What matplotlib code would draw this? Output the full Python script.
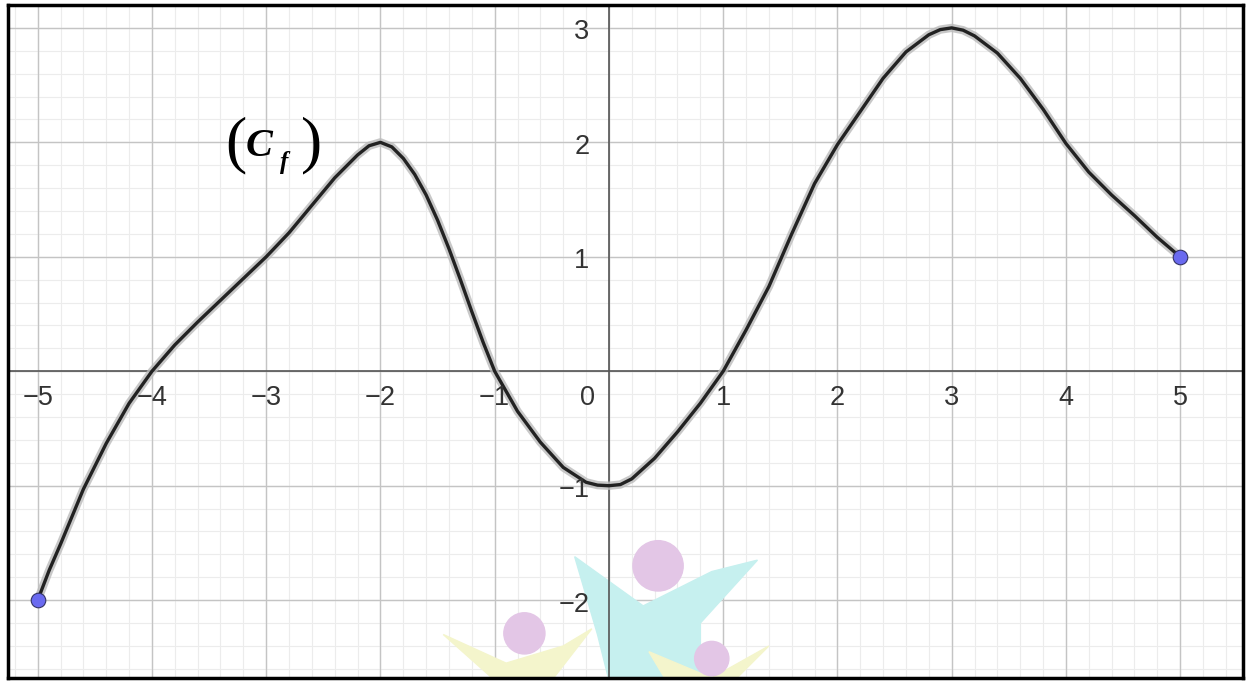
import numpy as np
import matplotlib.pyplot as plt
from matplotlib.patches import Ellipse, Polygon

x_pts = [-5, -4.9, -4.8, -4.6, -4.4, -4.2, -4, -3.8, -3.6, -3.4, -3.2, -3, -2.8, -2.6,
         -2.4, -2.2, -2.1, -2, -1.9, -1.8, -1.7, -1.6, -1.5, -1.4, -1.3, -1.2, -1.1, -1,
         -0.8, -0.6, -0.4, -0.2, -0.1, 0, 0.1, 0.2, 0.4, 0.6, 0.8, 1, 1.2, 1.4, 1.6, 1.8,
         2, 2.2, 2.4, 2.6, 2.8, 2.9, 3, 3.1, 3.2, 3.4, 3.6, 3.8, 4, 4.2, 4.4, 4.6, 4.8, 5]
y_pts = [-2, -1.74, -1.51, -1.03, -0.63, -0.28, 0, 0.23, 0.43, 0.62, 0.81, 1.0, 1.21, 1.45,
         1.69, 1.89, 1.97, 2.0, 1.96, 1.86, 1.72, 1.54, 1.32, 1.07, 0.80, 0.52, 0.25, 0,
         -0.35, -0.62, -0.84, -0.97, -0.995, -1.0, -0.99, -0.94, -0.76, -0.53, -0.28, 0,
         0.36, 0.74, 1.20, 1.64, 1.98, 2.27, 2.56, 2.79, 2.94, 2.985, 3.0, 2.98, 2.93, 2.78,
         2.56, 2.29, 1.99, 1.74, 1.54, 1.36, 1.17, 1.0]
end_x = [-5, 5]
end_y = [-2, 1]
xticks = [-5, -4, -3, -2, -1, 0, 1, 2, 3, 4, 5]
yticks = [-2, -1, 1, 2, 3]

plt.rcParams['font.family'] = ['Liberation Sans', 'DejaVu Sans']

fig = plt.figure(figsize=(12.48, 6.82), dpi=100)
ax = fig.add_axes([8/1248, 4/682, 1235/1248, 673/682])
ax.set_xlim(-5.26, 5.55)
ax.set_ylim(-2.68, 3.2)

# grid
for v in np.arange(-5.2, 5.6, 0.2):
    ax.axvline(v, color='#ececec', lw=0.8, zorder=0)
for v in np.arange(-2.6, 3.2, 0.2):
    ax.axhline(v, color='#ececec', lw=0.8, zorder=0)
for v in range(-5, 6):
    ax.axvline(v, color='#c4c4c4', lw=1.0, zorder=1)
for v in range(-2, 4):
    ax.axhline(v, color='#c4c4c4', lw=1.0, zorder=1)
ax.axhline(0, color='#555555', lw=1.2, zorder=2)
ax.axvline(0, color='#555555', lw=1.2, zorder=2)

# faint watermark
for cx, cy, r in [(0.43, -1.70, 0.22), (-0.74, -2.29, 0.18), (0.90, -2.51, 0.15)]:
    ax.add_patch(Ellipse((cx, cy), 2*r, 2*r, color='#e3c6e6', zorder=1.5))
ax.add_patch(Polygon([(-0.3, -1.62), (0.3, -2.05), (0.9, -1.75), (1.3, -1.65),
                      (0.8, -2.2), (0.8, -2.7), (0.0, -2.7), (-0.1, -2.3)],
                     closed=True, color='#c6f0ef', zorder=1.4))
ax.add_patch(Polygon([(-1.45, -2.3), (-0.9, -2.55), (-0.4, -2.4), (-0.15, -2.25),
                      (-0.5, -2.7), (-1.0, -2.7)],
                     closed=True, color='#f4f5cc', zorder=1.4))
ax.add_patch(Polygon([(0.35, -2.45), (0.9, -2.68), (1.4, -2.4), (1.1, -2.7), (0.5, -2.7)],
                     closed=True, color='#f4f5cc', zorder=1.4))

# curve with halo
ax.plot(x_pts, y_pts, color='#bbbbbb', lw=6, alpha=0.8, solid_capstyle='round',
        solid_joinstyle='round', zorder=3)
ax.plot(x_pts, y_pts, color='#222222', lw=2.4, solid_capstyle='round',
        solid_joinstyle='round', zorder=4)
ax.scatter(end_x, end_y, s=110, color='#6a6af0', edgecolors='#333366', linewidths=0.8, zorder=5)

# tick labels
for t in xticks:
    if t == 0:
        ax.text(-0.19, -0.235, '0', ha='center', va='center', fontsize=19.5, color='#333333', zorder=6)
    else:
        s = str(t).replace('-', '\u2212')
        ax.text(t, -0.235, s, ha='center', va='center', fontsize=19.5, color='#333333', zorder=6)
for t in yticks:
    s = str(t).replace('-', '\u2212')
    ax.text(-0.17, t - 0.04, s, ha='right', va='center', fontsize=19.5, color='#333333', zorder=6)

# curve name (C_f)
serif = 'Liberation Serif'
fig.text(236/1248, 1 - 145/682, '(', fontsize=46, family=serif, ha='center', va='center')
fig.text(259/1248, 1 - 146/682, 'C', fontsize=29, family=serif, weight='bold', style='italic',
         ha='center', va='center')
fig.text(284/1248, 1 - 162/682, 'f', fontsize=18, family=serif, weight='bold', style='italic',
         ha='center', va='center')
fig.text(312/1248, 1 - 145/682, ')', fontsize=46, family=serif, ha='center', va='center')

ax.set_xticks([])
ax.set_yticks([])
for sp in ax.spines.values():
    sp.set_linewidth(2.5)
    sp.set_color('black')

fig.savefig('out.png', dpi=100)
